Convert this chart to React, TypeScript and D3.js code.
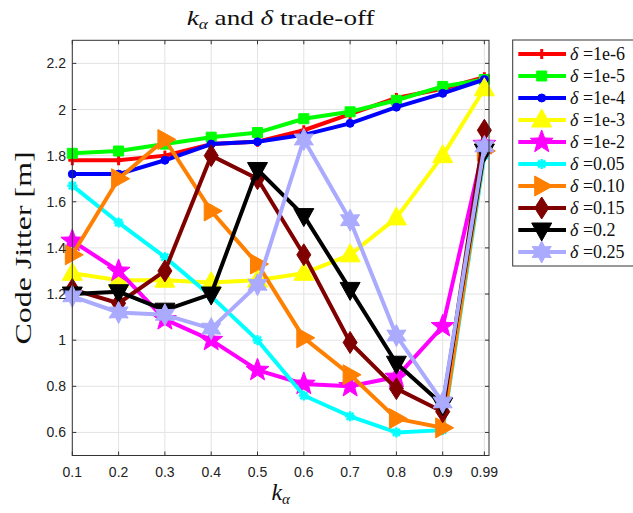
import React from "react";
import * as d3 from "d3";

const kValues = [0.1, 0.2, 0.3, 0.4, 0.5, 0.6, 0.7, 0.8, 0.9, 0.99];
const xTickLabels = ["0.1", "0.2", "0.3", "0.4", "0.5", "0.6", "0.7", "0.8", "0.9", "0.99"];
const yTicks = [0.6, 0.8, 1, 1.2, 1.4, 1.6, 1.8, 2, 2.2];
const yTickLabels = ["0.6", "0.8", "1", "1.2", "1.4", "1.6", "1.8", "2", "2.2"];

const seriesNames = ["1e-6", "1e-5", "1e-4", "1e-3", "1e-2", "0.05", "0.10", "0.15", "0.2", "0.25"];
const seriesColors = ["#ff0000", "#00ff00", "#0000ff", "#ffff00", "#ff00ff", "#00ffff", "#ff8000", "#800000", "#000000", "#aaaaff"];
const seriesMarkers = ["plus", "square", "circle", "triUp", "pentagram", "asterisk", "triRight", "diamond", "triDown", "hexagram"];

const d1e6 = [1.78, 1.78, 1.80, 1.85, 1.86, 1.91, 1.98, 2.05, 2.09, 2.14];
const d1e5 = [1.81, 1.82, 1.85, 1.88, 1.90, 1.96, 1.99, 2.04, 2.10, 2.13];
const d1e4 = [1.72, 1.72, 1.78, 1.85, 1.86, 1.89, 1.94, 2.01, 2.07, 2.13];
const d1e3 = [1.29, 1.26, 1.26, 1.25, 1.26, 1.29, 1.37, 1.53, 1.80, 2.09];
const d1e2 = [1.43, 1.30, 1.09, 1.00, 0.87, 0.81, 0.80, 0.84, 1.06, 1.85];
const d005 = [1.67, 1.51, 1.36, 1.19, 1.00, 0.76, 0.67, 0.60, 0.61, 1.80];
const d010 = [1.37, 1.70, 1.87, 1.56, 1.33, 1.01, 0.85, 0.66, 0.62, 1.82];
const d015 = [1.22, 1.16, 1.30, 1.80, 1.70, 1.37, 0.99, 0.79, 0.69, 1.91];
const d020 = [1.20, 1.21, 1.13, 1.20, 1.74, 1.54, 1.22, 0.90, 0.72, 1.82];
const d025 = [1.19, 1.12, 1.11, 1.05, 1.24, 1.87, 1.52, 1.02, 0.73, 1.84];
const seriesValues = [d1e6, d1e5, d1e4, d1e3, d1e2, d005, d010, d015, d020, d025];

const W = 633, H = 513;
const L = 72.3, R = 489, T = 40.3, B = 455.5;
const SERIF = "Liberation Serif, DejaVu Serif, serif";

function star(n: number, ro: number, ri: number) {
  const pts: [number, number][] = [];
  for (let i = 0; i < 2 * n; i++) {
    const a = -Math.PI / 2 + (i * Math.PI) / n;
    const r = i % 2 === 0 ? ro : ri;
    pts.push([r * Math.cos(a), r * Math.sin(a)]);
  }
  return "M" + pts.map((p) => p.join(",")).join("L") + "Z";
}

function markerPath(type: string): string {
  switch (type) {
    case "square": return "M-5,-5L5,-5L5,5L-5,5Z";
    case "circle": return d3.symbol(d3.symbolCircle, 50)() as string;
    case "triUp": return "M0,-11L10,7L-10,7Z";
    case "triDown": return "M0,11L10,-7L-10,-7Z";
    case "triRight": return "M11,0L-7,10L-7,-10Z";
    case "diamond": return "M0,-11L7,0L0,11L-7,0Z";
    case "pentagram": return star(5, 12, 5);
    case "hexagram": return star(6, 11, 6);
    default: return "";
  }
}

function Marker({ type, color, x, y }: { type: string; color: string; x: number; y: number }) {
  if (type === "plus") {
    return (
      <g transform={`translate(${x},${y})`} stroke={color} strokeWidth={3}>
        <line x1={-4} x2={4} y1={0} y2={0} />
        <line x1={0} x2={0} y1={-5} y2={5} />
      </g>
    );
  }
  if (type === "asterisk") {
    return (
      <g transform={`translate(${x},${y})`} stroke={color} strokeWidth={2.5}>
        <line x1={-5} x2={5} y1={0} y2={0} />
        <line x1={0} x2={0} y1={-5} y2={5} />
        <line x1={-3.5} x2={3.5} y1={-3.5} y2={3.5} />
        <line x1={-3.5} x2={3.5} y1={3.5} y2={-3.5} />
      </g>
    );
  }
  return <path d={markerPath(type)} transform={`translate(${x},${y})`} fill={color} stroke={color} strokeWidth={1} />;
}

export default function App() {
  const x = d3.scaleLinear().domain([0.1, 1]).range([L, R]);
  const y = d3.scaleLinear().domain([0.5, 2.3]).range([B, T]);
  const line = d3.line<number>().x((_, i) => x(kValues[i])).y((d) => y(d));
  const gridX = kValues;
  const legendY0 = 54, legendDy = 22;

  return (
    <svg width={W} height={H} style={{ position: "absolute", left: 0, top: 0, background: "#fff" }}>
      <rect x={0} y={0} width={W} height={H} fill="#fff" />
      {gridX.map((v, i) => (
        <line key={"gx" + i} x1={x(v)} x2={x(v)} y1={T} y2={B} stroke="#e3e3e3" strokeWidth={1} />
      ))}
      {yTicks.map((v, i) => (
        <line key={"gy" + i} x1={L} x2={R} y1={y(v)} y2={y(v)} stroke="#e3e3e3" strokeWidth={1} />
      ))}
      {gridX.map((v, i) => (
        <g key={"tx" + i} stroke="#333" strokeWidth={1}>
          <line x1={x(v)} x2={x(v)} y1={B} y2={B - 4} />
          <line x1={x(v)} x2={x(v)} y1={T} y2={T + 4} />
        </g>
      ))}
      {yTicks.map((v, i) => (
        <g key={"ty" + i} stroke="#333" strokeWidth={1}>
          <line x1={L} x2={L + 4} y1={y(v)} y2={y(v)} />
          <line x1={R} x2={R - 4} y1={y(v)} y2={y(v)} />
        </g>
      ))}
      {seriesValues.map((vals, si) => (
        <g key={"s" + si}>
          <path d={line(vals) as string} fill="none" stroke={seriesColors[si]} strokeWidth={4} strokeLinejoin="round" />
          {vals.map((v, i) => (
            <Marker key={i} type={seriesMarkers[si]} color={seriesColors[si]} x={x(kValues[i])} y={y(v)} />
          ))}
        </g>
      ))}
      <rect x={L} y={T} width={R - L} height={B - T} fill="none" stroke="#333" strokeWidth={1} />
      {kValues.map((v, i) => (
        <text key={"xl" + i} x={x(v)} y={477} textAnchor="middle" fontFamily="Liberation Sans, Arial, sans-serif" fontSize={14} fill="#222">
          {xTickLabels[i]}
        </text>
      ))}
      {yTicks.map((v, i) => (
        <text key={"yl" + i} x={66} y={y(v) + 5} textAnchor="end" fontFamily="Liberation Sans, Arial, sans-serif" fontSize={14} fill="#222">
          {yTickLabels[i]}
        </text>
      ))}
      <text x={(L + R) / 2} y={25} textAnchor="middle" fontFamily={SERIF} fontSize={22} fill="#111" textLength={188} lengthAdjust="spacingAndGlyphs">
        <tspan fontStyle="italic">k</tspan>
        <tspan fontStyle="italic" fontSize={14} dy={4}>α</tspan>
        <tspan dy={-4}> and </tspan>
        <tspan fontStyle="italic">δ</tspan>
        <tspan> trade-off</tspan>
      </text>
      <text x={(L + R) / 2} y={500} textAnchor="middle" fontFamily={SERIF} fontSize={24} fill="#111">
        <tspan fontStyle="italic">k</tspan>
        <tspan fontStyle="italic" fontSize={15} dy={4}>α</tspan>
      </text>
      <text transform={`translate(31,${(T + B) / 2}) rotate(-90)`} textAnchor="middle" fontFamily={SERIF} fontSize={23} fill="#111" textLength={193} lengthAdjust="spacingAndGlyphs">
        Code Jitter [m]
      </text>
      <rect x={512.7} y={40} width={130} height={226} fill="#fff" stroke="#333" strokeWidth={1} />
      {seriesNames.map((n, i) => {
        const ly = legendY0 + i * legendDy;
        return (
          <g key={"lg" + i}>
            <line x1={518.3} x2={566} y1={ly} y2={ly} stroke={seriesColors[i]} strokeWidth={4} />
            <Marker type={seriesMarkers[i]} color={seriesColors[i]} x={541.7} y={ly} />
            <text x={570} y={ly + 6} fontFamily={SERIF} fontSize={18} fill="#111">
              <tspan fontStyle="italic">δ</tspan>
              <tspan> =</tspan>
              <tspan>{n}</tspan>
            </text>
          </g>
        );
      })}
    </svg>
  );
}
